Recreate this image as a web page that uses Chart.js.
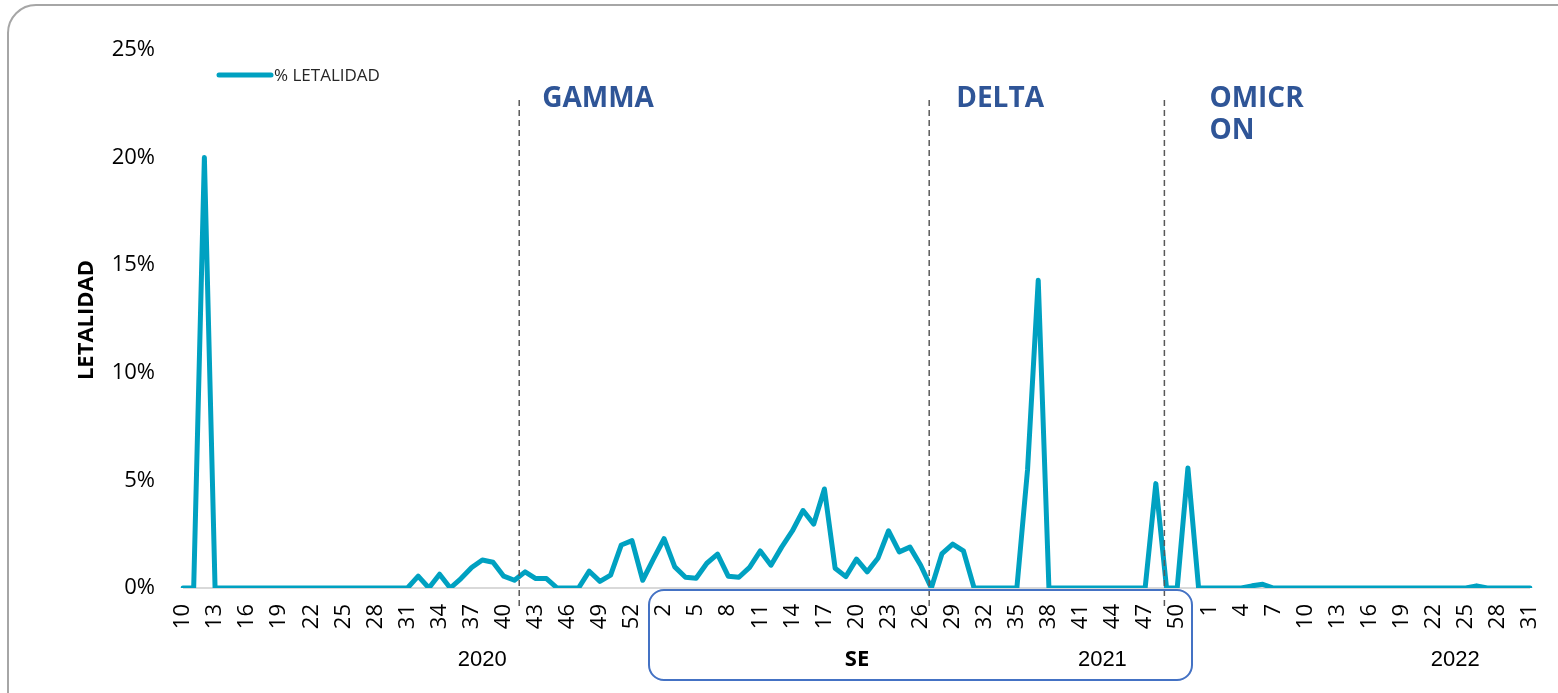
<!DOCTYPE html>
<html>
<head>
<meta charset="utf-8">
<script src="https://cdn.jsdelivr.net/npm/chart.js@4/dist/chart.umd.min.js"></script>
<style>
  html, body { margin: 0; padding: 0; background: #fff; }
  #chart { display: block; }
</style>
</head>
<body>
<canvas id="chart" width="1558" height="693"></canvas>
<script>
// epidemiological weeks shown on the x axis
var weeks2020 = [];
for (var w = 10; w <= 53; w++) weeks2020.push(w);
var weeks2021 = [];
for (var w = 1; w <= 52; w++) weeks2021.push(w);
var weeks2022 = [];
for (var w = 1; w <= 31; w++) weeks2022.push(w);

// % letalidad per week
var letalidad2020 = [0, 0, 20, 0,
  0, 0, 0, 0, 0, 0, 0, 0, 0, 0, 0, 0, 0, 0, 0, 0, 0, 0,
  0.55, 0, 0.64, 0, 0.44, 0.95, 1.3, 1.2, 0.55, 0.36, 0.75, 0.44, 0.44, 0, 0, 0, 0.78, 0.31, 0.6, 2.0, 2.2, 0.36];
var letalidad2021 = [1.34, 2.29, 0.98, 0.5, 0.45, 1.15, 1.57, 0.55, 0.5, 0.96,
  1.72, 1.06, 1.9, 2.65, 3.6, 2.97, 4.6, 0.92, 0.53, 1.34,
  0.75, 1.38, 2.66, 1.68, 1.9, 1.06, 0, 1.6, 2.04, 1.73,
  0, 0, 0, 0, 0, 5.5, 14.3, 0, 0, 0,
  0, 0, 0, 0, 0, 0, 0, 4.85, 0, 0,
  5.58, 0];
var letalidad2022 = [0, 0, 0, 0, 0.1, 0.17, 0, 0, 0, 0,
  0, 0, 0, 0, 0, 0, 0, 0, 0, 0,
  0, 0, 0, 0, 0, 0.1, 0, 0, 0, 0,
  0];

var yTicks = [0, 5, 10, 15, 20, 25];
var variantNames = [['GAMMA'], ['DELTA'], ['OMICR', 'ON']];
var variantStart = ['2020-42', '2021-27', '2021-49'];
var years = ['2020', '2021', '2022'];

var weekLabels = weeks2020.concat(weeks2021, weeks2022).map(String);
var weekKeys = weeks2020.map(w => '2020-' + w)
  .concat(weeks2021.map(w => '2021-' + w), weeks2022.map(w => '2022-' + w));
var letalidad = letalidad2020.concat(letalidad2021, letalidad2022);

var lineColor = '#00A1C1';
var blue = '#2F5597';
var fontFamily = '"Open Sans", "Noto Sans", sans-serif';

var decorations = {
  id: 'decorations',
  beforeDraw(chart) {
    var c = chart.ctx;
    c.save();
    c.strokeStyle = '#A6A6A6';
    c.lineWidth = 2;
    c.beginPath();
    c.roundRect(8, 5, 1620, 760, 28);
    c.stroke();
    c.restore();
  },
  afterDraw(chart) {
    var c = chart.ctx;
    var x = chart.scales.x;
    var step = x.getPixelForValue(1) - x.getPixelForValue(0);
    c.save();

    // variant boundaries
    var shifts = [-0.55, -0.2, -0.2];
    var textGap = [23, 27, 45];
    variantStart.forEach(function (key, i) {
      var px = x.getPixelForValue(weekKeys.indexOf(key)) + shifts[i] * step;
      c.strokeStyle = '#595959';
      c.lineWidth = 1.5;
      c.setLineDash([6, 4]);
      c.beginPath();
      c.moveTo(px, 100);
      c.lineTo(px, 607);
      c.stroke();
      c.setLineDash([]);
      c.fillStyle = blue;
      c.font = 'bold 28px ' + fontFamily;
      c.textAlign = 'left';
      c.textBaseline = 'alphabetic';
      variantNames[i].forEach(function (t, j) {
        c.fillText(t, px + textGap[i], 107 + j * 32);
      });
    });

    // legend
    c.strokeStyle = lineColor;
    c.lineWidth = 5;
    c.lineCap = 'round';
    c.beginPath();
    c.moveTo(219, 75);
    c.lineTo(271, 75);
    c.stroke();
    c.fillStyle = '#262626';
    c.font = '17px ' + fontFamily;
    c.textBaseline = 'middle';
    c.fillText('% LETALIDAD', 274, 76);

    // y axis title
    c.save();
    c.translate(87, 320);
    c.rotate(-Math.PI / 2);
    c.fillStyle = '#000';
    c.font = 'bold 22px ' + fontFamily;
    c.textAlign = 'center';
    c.fillText('LETALIDAD', 0, 0);
    c.restore();

    // SE box
    c.strokeStyle = '#4472C4';
    c.lineWidth = 2;
    c.beginPath();
    c.roundRect(649, 590, 543, 90, 15);
    c.stroke();
    c.fillStyle = '#000';
    c.font = 'bold 22px ' + fontFamily;
    c.textAlign = 'center';
    c.fillText('SE', 857, 660);

    // years
    var yearAt = ['2020-38', '2021-43', '2022-24'];
    c.font = '22px "Liberation Sans", ' + fontFamily;
    years.forEach(function (yr, i) {
      var px = x.getPixelForValue(weekKeys.indexOf(yearAt[i]));
      c.fillText(yr, px, 660);
    });
    c.restore();
  }
};

new Chart(document.getElementById('chart'), {
  type: 'line',
  data: {
    labels: weekLabels,
    datasets: [{
      label: '% LETALIDAD',
      data: letalidad,
      borderColor: lineColor,
      borderWidth: 5,
      borderJoinStyle: 'round',
      borderCapStyle: 'round',
      pointRadius: 0,
      tension: 0,
      fill: false
    }]
  },
  options: {
    responsive: false,
    animation: false,
    layout: { padding: { top: 50, right: 28, left: 0, bottom: 0 } },
    plugins: { legend: { display: false }, tooltip: { enabled: false } },
    scales: {
      x: {
        grid: { display: false },
        border: { display: false },
        ticks: {
          autoSkip: false,
          minRotation: 90,
          maxRotation: 90,
          padding: 8,
          color: '#000',
          font: { family: fontFamily, size: 22 },
          callback: function (v, i) { return i % 3 === 0 ? weekLabels[i] : ''; }
        },
        afterFit: function (s) {
          s.height = 105;
          s.paddingLeft = 0;
          s.paddingRight = 0;
        }
      },
      y: {
        min: 0,
        max: 25,
        afterBuildTicks: function (s) { s.ticks = yTicks.map(v => ({ value: v })); },
        ticks: {
          padding: 28,
          color: '#000',
          font: { family: fontFamily, size: 22 },
          callback: function (v) { return v + '%'; }
        },
        grid: {
          drawTicks: false,
          lineWidth: 2,
          color: function (ctx) { return ctx.tick && ctx.tick.value === 0 ? '#D9D9D9' : 'rgba(0,0,0,0)'; }
        },
        border: { display: false },
        afterFit: function (s) {
          s.width = 183;
          s.paddingTop = 0;
          s.paddingBottom = 0;
        }
      }
    }
  },
  plugins: [decorations]
});
</script>
</body>
</html>
